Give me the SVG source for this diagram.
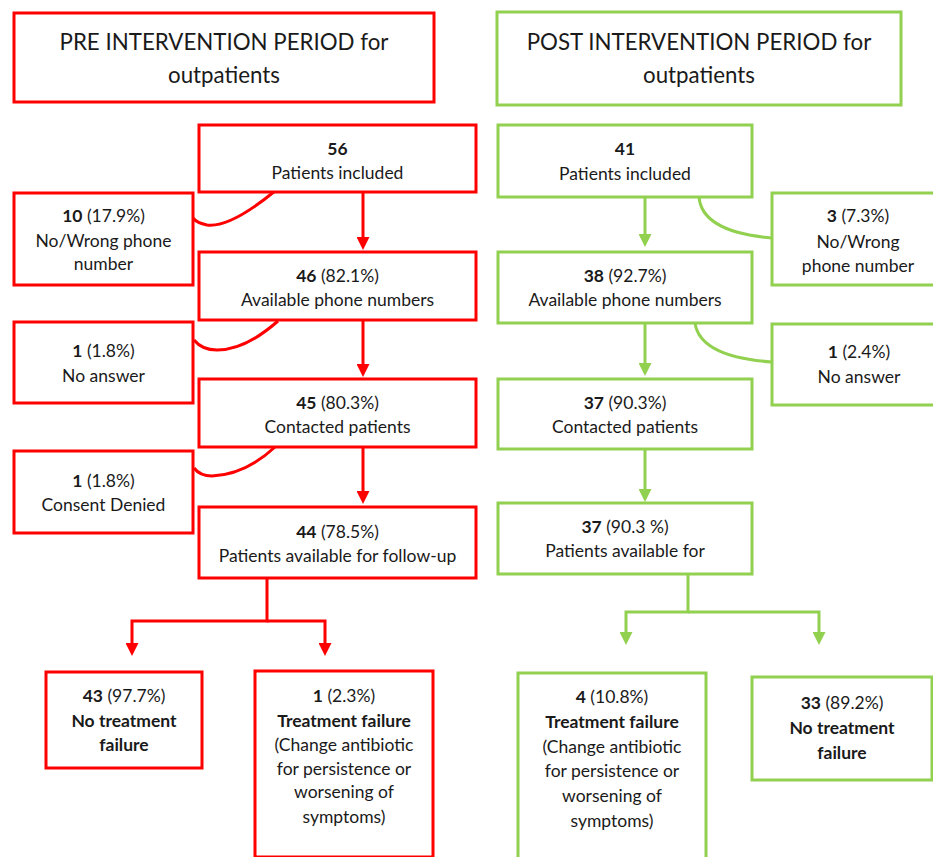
<svg xmlns="http://www.w3.org/2000/svg" width="933" height="857" viewBox="0 0 933 857">
<style>
.r{fill:#fff;stroke:#ff0000;stroke-width:3}
.g{fill:#fff;stroke:#92d050;stroke-width:3}
.cr{fill:none;stroke:#ff0000;stroke-width:3}
.cg{fill:none;stroke:#92d050;stroke-width:3}
text{font-family:Lato,"Liberation Sans",sans-serif;font-size:17.5px;fill:#1a1a1a;text-anchor:middle}
.t{font-size:22.3px}
.b{font-weight:bold}
</style>
<defs>
<marker id="ar" viewBox="0 0 13 13" refX="1" refY="6.5" markerWidth="13" markerHeight="13" markerUnits="userSpaceOnUse" orient="auto"><path d="M0,0 L13,6.5 L0,13 z" fill="#ff0000"/></marker>
<marker id="ag" viewBox="0 0 13 13" refX="1" refY="6.5" markerWidth="13" markerHeight="13" markerUnits="userSpaceOnUse" orient="auto"><path d="M0,0 L13,6.5 L0,13 z" fill="#92d050"/></marker>
</defs>
<rect width="933" height="857" fill="#fff"/>
<g id="connectors">
<path class="cr" d="M363 192 V238" marker-end="url(#ar)"/>
<path class="cr" d="M363 320 V365" marker-end="url(#ar)"/>
<path class="cr" d="M363 447 V492" marker-end="url(#ar)"/>
<path class="cr" d="M267 578 V621 H132 V644" marker-end="url(#ar)"/>
<path class="cr" d="M267 621 H325 V644" marker-end="url(#ar)"/>
<path class="cr" d="M275 191 Q 230 228 207 225 Q 197 223 193 218"/>
<path class="cr" d="M278 321 Q 245 350 217 350 Q 202 350 194 340"/>
<path class="cr" d="M275 447 Q 245 475 212 476 Q 200 476 194 468"/>
<path class="cg" d="M645 197 V235" marker-end="url(#ag)"/>
<path class="cg" d="M645 323 V364" marker-end="url(#ag)"/>
<path class="cg" d="M645 449 V490" marker-end="url(#ag)"/>
<path class="cg" d="M688 574 V612 H626 V633" marker-end="url(#ag)"/>
<path class="cg" d="M688 612 H819 V633" marker-end="url(#ag)"/>
<path class="cg" d="M699 197 Q 702 232 772 238"/>
<path class="cg" d="M695 323 Q 700 357 772 362"/>
</g>
<g id="pre-title"><rect class="r" x="14" y="13" width="420" height="89"/><text class="t" x="224" y="50">PRE INTERVENTION PERIOD for</text><text class="t" x="224" y="83">outpatients</text></g>
<g id="post-title"><rect class="g" x="497" y="12" width="404" height="93"/><text class="t" x="699" y="50">POST INTERVENTION PERIOD for</text><text class="t" x="699" y="83">outpatients</text></g>
<g id="pre-included"><rect class="r" x="199" y="125" width="277" height="67"/><text x="337.5" y="155" class="b">56</text><text x="337.5" y="179">Patients included</text></g>
<g id="pre-nophone"><rect class="r" x="14" y="193" width="179" height="92"/><text x="103.5" y="222"><tspan class="b">10</tspan> (17.9%)</text><text x="103.5" y="247">No/Wrong phone</text><text x="103.5" y="270">number</text></g>
<g id="pre-available"><rect class="r" x="199" y="252" width="277" height="68"/><text x="337.5" y="282"><tspan class="b">46</tspan> (82.1%)</text><text x="337.5" y="306">Available phone numbers</text></g>
<g id="pre-noanswer"><rect class="r" x="14" y="322" width="179" height="81"/><text x="103.5" y="357"><tspan class="b">1</tspan> (1.8%)</text><text x="103.5" y="382">No answer</text></g>
<g id="pre-contacted"><rect class="r" x="199" y="379" width="277" height="68"/><text x="337.5" y="409"><tspan class="b">45</tspan> (80.3%)</text><text x="337.5" y="433">Contacted patients</text></g>
<g id="pre-consent"><rect class="r" x="14" y="451" width="179" height="82"/><text x="103.5" y="487"><tspan class="b">1</tspan> (1.8%)</text><text x="103.5" y="511">Consent Denied</text></g>
<g id="pre-followup"><rect class="r" x="199" y="507" width="277" height="71"/><text x="337.5" y="538"><tspan class="b">44</tspan> (78.5%)</text><text x="337.5" y="562">Patients available for follow-up</text></g>
<g id="pre-nofailure"><rect class="r" x="46" y="672" width="156" height="96"/><text x="124" y="702"><tspan class="b">43</tspan> (97.7%)</text><text x="124" y="727" class="b">No treatment</text><text x="124" y="751" class="b">failure</text></g>
<g id="pre-failure"><rect class="r" x="255" y="671" width="178" height="186"/><text x="344" y="702"><tspan class="b">1</tspan> (2.3%)</text><text x="344" y="727" class="b">Treatment failure</text><text x="344" y="751">(Change antibiotic</text><text x="344" y="775">for persistence or</text><text x="344" y="798">worsening of</text><text x="344" y="823">symptoms)</text></g>
<g id="post-included"><rect class="g" x="498" y="125" width="254" height="72"/><text x="625" y="155" class="b">41</text><text x="625" y="180">Patients included</text></g>
<g id="post-nophone"><rect class="g" x="772" y="193" width="180" height="92"/><text x="858" y="222"><tspan class="b">3</tspan> (7.3%)</text><text x="858" y="248">No/Wrong</text><text x="858" y="272">phone number</text></g>
<g id="post-available"><rect class="g" x="498" y="252" width="254" height="71"/><text x="625" y="282"><tspan class="b">38</tspan> (92.7%)</text><text x="625" y="306">Available phone numbers</text></g>
<g id="post-noanswer"><rect class="g" x="772" y="324" width="180" height="81"/><text x="859" y="358"><tspan class="b">1</tspan> (2.4%)</text><text x="859" y="383">No answer</text></g>
<g id="post-contacted"><rect class="g" x="498" y="379" width="254" height="70"/><text x="625" y="409"><tspan class="b">37</tspan> (90.3%)</text><text x="625" y="433">Contacted patients</text></g>
<g id="post-followup"><rect class="g" x="498" y="503" width="254" height="71"/><text x="625" y="533"><tspan class="b">37</tspan> (90.3 %)</text><text x="625" y="557">Patients available for</text></g>
<g id="post-failure"><rect class="g" x="518" y="673" width="188" height="190"/><text x="612" y="703"><tspan class="b">4</tspan> (10.8%)</text><text x="612" y="728" class="b">Treatment failure</text><text x="612" y="753">(Change antibiotic</text><text x="612" y="777">for persistence or</text><text x="612" y="802">worsening of</text><text x="612" y="827">symptoms)</text></g>
<g id="post-nofailure"><rect class="g" x="752" y="677" width="180" height="103"/><text x="842" y="709"><tspan class="b">33</tspan> (89.2%)</text><text x="842" y="734" class="b">No treatment</text><text x="842" y="759" class="b">failure</text></g>
</svg>
